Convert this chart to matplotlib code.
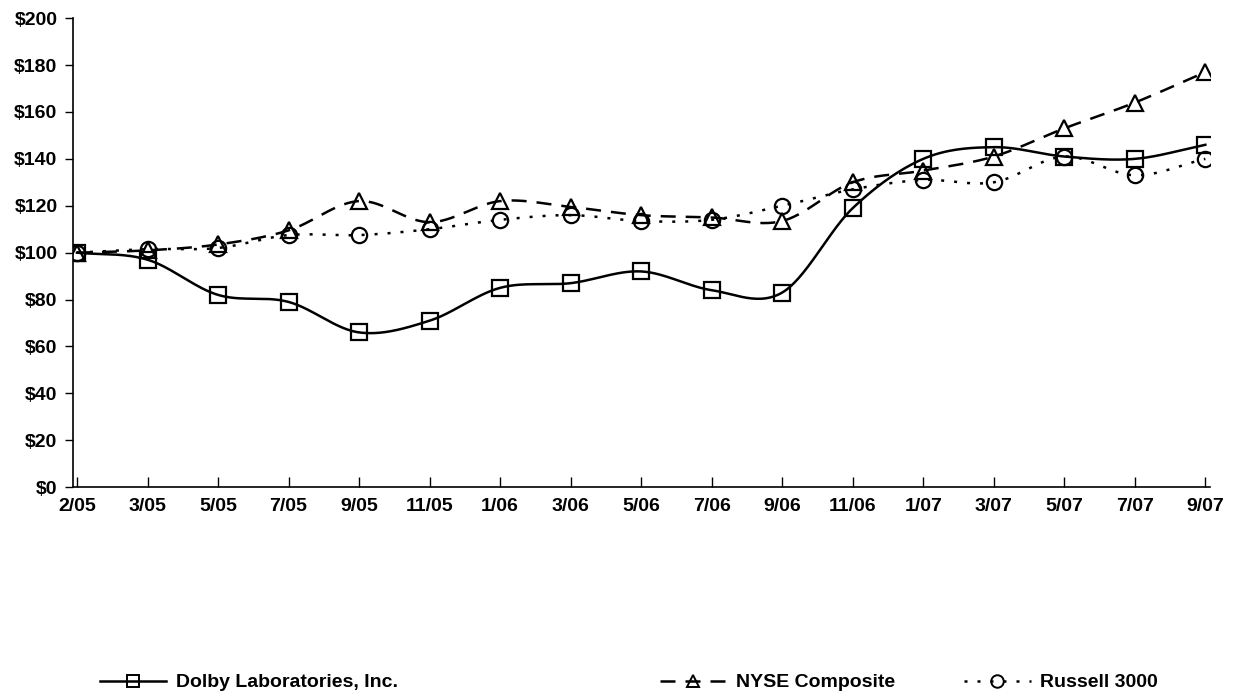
import numpy as np
import matplotlib
matplotlib.use("Agg")
import matplotlib.pyplot as plt
from matplotlib.lines import Line2D

plt.rcParams['font.family'] = ['Liberation Sans', 'DejaVu Sans']
plt.rcParams['font.weight'] = 'bold'

dates = ["2/05", "3/05", "5/05", "7/05", "9/05", "11/05", "1/06", "3/06", "5/06",
         "7/06", "9/06", "11/06", "1/07", "3/07", "5/07", "7/07", "9/07"]
dolby = [100, 97, 82, 79, 66, 71, 85, 87, 92, 84, 83, 119, 140, 145, 141, 140, 146]
nyse = [100, 101, 103.5, 109.5, 122, 113, 122, 119.5, 116, 115, 113.5, 130, 135, 141, 153, 164, 177]
russell = [100, 101.5, 102, 107.5, 107.5, 110, 114, 116, 113.5, 114, 120, 127, 131, 130, 141, 133, 140]
y_ticks = [0, 20, 40, 60, 80, 100, 120, 140, 160, 180, 200]


def smooth(x, y, n=30):
    """Catmull-Rom curve through the points, like Excel's smoothed lines."""
    x = np.asarray(x, float)
    y = np.asarray(y, float)
    px = np.concatenate([[2 * x[0] - x[1]], x, [2 * x[-1] - x[-2]]])
    py = np.concatenate([[2 * y[0] - y[1]], y, [2 * y[-1] - y[-2]]])
    xs, ys = [], []
    t = np.linspace(0, 1, n, endpoint=False)
    for i in range(1, len(px) - 2):
        for p, out in ((px, xs), (py, ys)):
            p0, p1, p2, p3 = p[i - 1], p[i], p[i + 1], p[i + 2]
            out.extend(0.5 * ((2 * p1) + (-p0 + p2) * t
                              + (2 * p0 - 5 * p1 + 4 * p2 - p3) * t ** 2
                              + (-p0 + 3 * p1 - 3 * p2 + p3) * t ** 3))
    xs.append(x[-1])
    ys.append(y[-1])
    return xs, ys


fig = plt.figure(figsize=(12.33, 6.98), dpi=100)
ax = fig.add_axes([0.059, 0.302, 0.922, 0.672])

x = np.arange(len(dates))
series = [
    (dolby, 's', '-', "Dolby Laboratories, Inc."),
    (nyse, '^', (0, (6, 4)), "NYSE Composite"),
    (russell, 'o', (0, (1.2, 4)), "Russell 3000"),
]
handles = []
for vals, mk, ls, label in series:
    sx, sy = smooth(x, vals)
    ax.plot(sx, sy, color='black', lw=1.8, linestyle=ls)
    ax.plot(x, vals, linestyle='none', marker=mk, markersize=11,
            markerfacecolor='none', markeredgecolor='black', markeredgewidth=1.6)
    handles.append(Line2D([], [], color='black', lw=1.8, linestyle=ls, marker=mk,
                          markersize=9, markerfacecolor='none',
                          markeredgecolor='black', markeredgewidth=1.4, label=label))

ax.set_xlim(-0.06, 16.06)
ax.set_ylim(0, 200)
ax.set_yticks(y_ticks)
ax.set_yticklabels([f"${v}" for v in y_ticks])
ax.set_xticks(x)
ax.set_xticklabels(dates)
ax.tick_params(axis='y', direction='out', length=6, width=1, labelsize=14, pad=5)
ax.tick_params(axis='x', direction='in', length=7, width=1, labelsize=14, pad=8)
for lab in ax.get_xticklabels() + ax.get_yticklabels():
    lab.set_fontweight('bold')
for s in ('top', 'right'):
    ax.spines[s].set_visible(False)
for s in ('left', 'bottom'):
    ax.spines[s].set_linewidth(1.2)

anchors = [0.067, 0.521, 0.768]
for h, xa in zip(handles, anchors):
    leg = fig.legend(handles=[h], loc='center left', bbox_to_anchor=(xa, 0.022),
                     frameon=False, handlelength=3.4, handletextpad=0.5,
                     prop={'weight': 'bold', 'size': 14})

fig.savefig("out.png", dpi=100)
